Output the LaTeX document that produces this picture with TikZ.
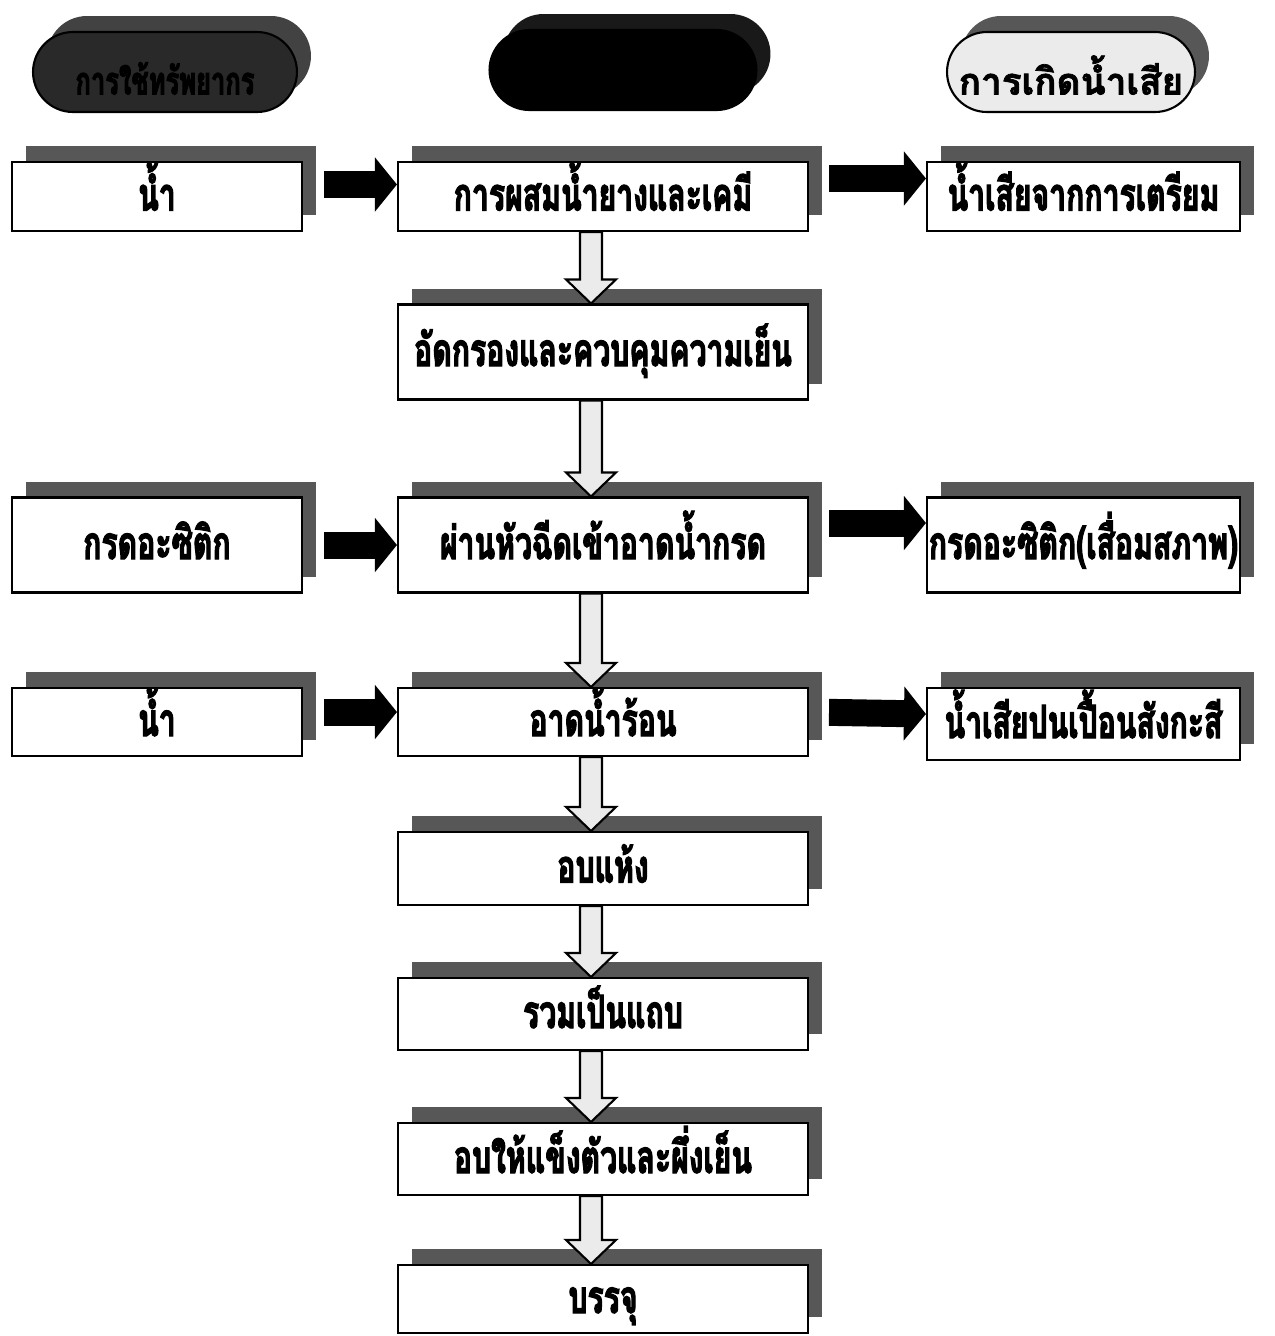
\documentclass[tikz,border=0pt]{standalone}
\usepackage{fontspec}
\newfontfamily\thaifont[Script=Thai,FakeStretch=0.66,FakeBold=2.5]{Loma}
\newfontfamily\thaihead[Script=Thai,FakeBold=2]{Loma}
\usetikzlibrary{arrows.meta,shadows,calc}

\newcommand\flowdown[2]{%
  \coordinate (s) at ($(#1.south)+(-12,0)$);
  \coordinate (t) at (s |- #2.north);
  \draw[hollowarrow] ($(s)+(-11,0)$) -- ($(t)+(-11,-24)$) -- ($(t)+(-25,-24)$) -- (t)
    -- ($(t)+(25,-24)$) -- ($(t)+(11,-24)$) -- ($(s)+(11,0)$) -- cycle;}

\begin{document}
\begin{tikzpicture}[x=0.02cm,y=-0.02cm]
\useasboundingbox (0,0) rectangle (1275,1336);
\tikzset{boxshadow/.style={drop shadow={shadow xshift=0.28cm, shadow yshift=0.32cm, fill=#1, opacity=1}}}
\tikzset{stepbox/.style={draw=black, line width=1.2pt, fill=white, inner sep=0pt,
  minimum height=#1, text height=0.56cm, text depth=0pt,
  font=\thaifont\bfseries\fontsize{26}{26}\selectfont, boxshadow=black!66}}
\tikzset{incol/.style={stepbox=#1, minimum width=5.8cm}}
\tikzset{proccol/.style={stepbox=#1, minimum width=8.2cm}}
\tikzset{outcol/.style={stepbox=#1, minimum width=6.26cm}}
\tikzset{headpill/.style={draw=black, line width=1.2pt, minimum height=1.6cm, rounded corners=0.8cm,
  inner sep=0pt, text height=0.9cm, text depth=0pt, font=\thaihead\bfseries\fontsize{21}{21}\selectfont}}
\tikzset{fatarrow/.style={line width=0.54cm, draw=black, -{Triangle[width=1.06cm,length=0.44cm]}}}
\tikzset{hollowarrow/.style={draw=black, line width=1.2pt, fill=black!8, line join=miter}}

\node[headpill, minimum width=5.28cm, fill=black!84, text=black, boxshadow=black!74,
  font=\thaifont\bfseries\fontsize{22}{22}\selectfont] (headin) at (165,72) {การใช้ทรัพยากร};
\node[headpill, minimum width=5.34cm, fill=black, boxshadow=black!90] (headproc) at (623,70) {};
\node[headpill, minimum width=4.96cm, fill=black!8, boxshadow=black!66] (headout) at (1071,72) {การเกิดน้ำเสีย};

\node[incol=1.38cm] (in1) at (157,196.5) {น้ำ};
\node[proccol=1.38cm] (proc1) at (603,196.5) {การผสมน้ำยางและเคมี};
\node[outcol=1.38cm] (out1) at (1083.5,196.5) {น้ำเสียจากการเตรียม};

\node[proccol=1.9cm] (proc2) at (603,352) {อัดกรองและควบคุมความเย็น};

\node[incol=1.9cm] (in3) at (157,545) {กรดอะซิติก};
\node[proccol=1.9cm] (proc3) at (603,545) {ผ่านหัวฉีดเข้าอาดน้ำกรด};
\node[outcol=1.9cm] (out3) at (1083.5,545) {กรดอะซิติก(เสื่อมสภาพ)};

\node[incol=1.36cm] (in4) at (157,722) {น้ำ};
\node[proccol=1.36cm] (proc4) at (603,722) {อาดน้ำร้อน};
\node[outcol=1.44cm] (out4) at (1083.5,724) {น้ำเสียปนเปื้อนสังกะสี};

\node[proccol=1.46cm] (proc5) at (603,868.5) {อบแห้ง};
\node[proccol=1.44cm] (proc6) at (603,1014) {รวมเป็นแถบ};
\node[proccol=1.44cm] (proc7) at (603,1159) {อบให้แข็งตัวและผึ่งเย็น};
\node[proccol=1.36cm] (proc8) at (603,1299) {บรรจุ};

\draw[fatarrow, shorten <=0.42cm] ([yshift=0.24cm]in1.east) -- ([yshift=0.24cm]proc1.west);
\draw[fatarrow, shorten <=0.4cm] ([yshift=0.36cm]proc1.east) -- ([yshift=0.36cm]out1.west);
\draw[fatarrow, shorten <=0.42cm] (in3.east) -- (proc3.west);
\draw[fatarrow, shorten <=0.4cm] ([yshift=0.44cm]proc3.east) -- ([yshift=0.44cm]out3.west);
\draw[fatarrow, shorten <=0.42cm] ([yshift=0.2cm]in4.east) -- ([yshift=0.2cm]proc4.west);
\draw[fatarrow, shorten <=0.4cm] ([yshift=0.2cm]proc4.east) -- ([yshift=0.2cm]out4.west);

\flowdown{proc1}{proc2}
\flowdown{proc2}{proc3}
\flowdown{proc3}{proc4}
\flowdown{proc4}{proc5}
\flowdown{proc5}{proc6}
\flowdown{proc6}{proc7}
\flowdown{proc7}{proc8}
\end{tikzpicture}
\end{document}
